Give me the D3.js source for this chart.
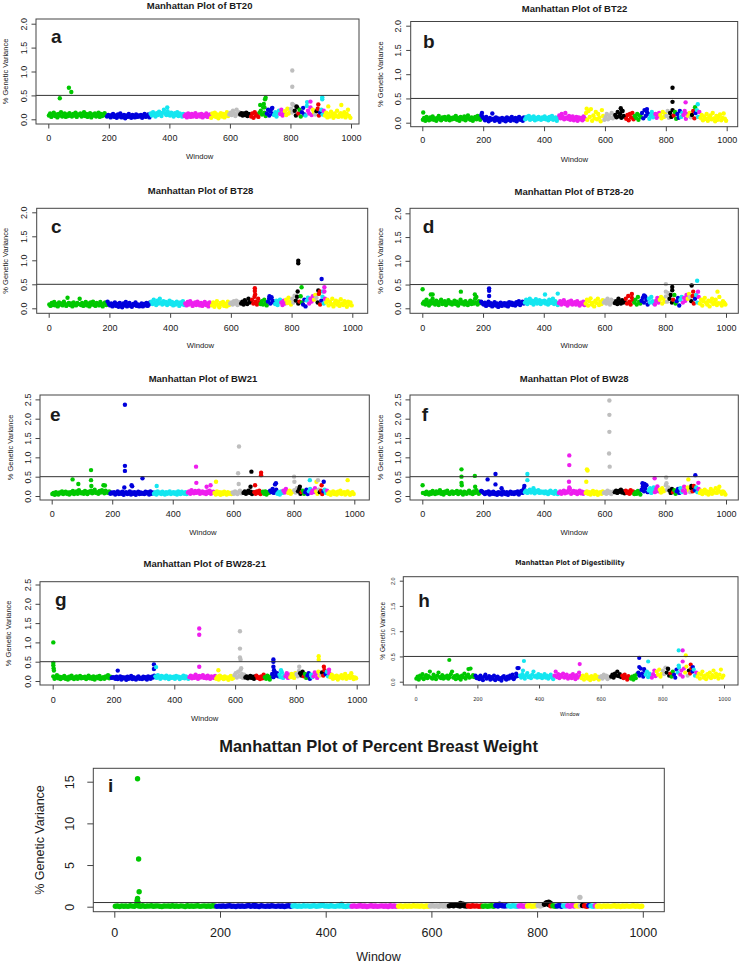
<!DOCTYPE html>
<html>
<head>
<meta charset="utf-8">
<script src="https://cdn.jsdelivr.net/npm/d3@7"></script>
<style>
body { margin: 0; background: #fff; }
text { font-family: "Liberation Sans", Arial, Helvetica, sans-serif; fill: #1a1a1a; }
</style>
</head>
<body>
<script>
// chromosome sizes in windows (GGA1..GGA28, Z), colours cycle through 8
var chromWindows = [192,145,112,88,60,35,36,29,24,21,20,18,18,15,12,1,10,11,10,14,7,4,6,6,2,5,5,4,88];
var chromColors = ["#00c800","#0000dc","#14e6f0","#ee1eee","#ffff00","#bebebe","#000000","#ee0000"];
var xTicks = [0,200,400,600,800,1000];
var yTicksSmall = [0,0.5,1,1.5,2];
var yTicksTall = [0,0.5,1,1.5,2,2.5];
var yTicksPbw = [0,5,10,15];
var threshold = 0.5;

// background cloud: % variance x100, one value every 4th window starting at window 2
var bgStep = 4, bgStart = 2;

var bt20Base = [
 8,12,5,9,14,7,10,4,11,8,15,6,9,12,5,10,7,13,9,6,11,8,14,5,10,
 9,12,6,8,15,7,11,5,9,13,4,10,8,12,6,9,14,5,11,7,10,13,8,6,9,
 7,4,9,11,5,8,3,10,6,12,4,7,9,2,8,5,11,6,3,9,7,4,10,5,8,
 6,9,3,8,11,5,7,10,4,12,8,15,10,6,13,9,16,11,7,14,20,12,9,17,10,
 8,14,11,6,13,9,15,7,12,10,6,11,7,10,4,12,8,5,11,6,9,13,5,8,10,
 6,11,4,9,7,12,5,8,10,3,12,7,14,5,10,2,9,13,6,11,4,8,15,7,10,
 14,9,18,12,7,20,11,15,10,13,8,12,9,14,7,11,10,6,12,3,15,8,10,5,14,
 18,10,25,14,7,12,20,8,16,22,11,9,15,6,13,18,11,20,8,14,17,9,22,12,15,
 22,14,30,18,8,25,12,20,6,15,24,10,8,28,18,12,25,9,20,14,10,17,22,8,14,
 20,10,18,8,14,4,11,6,16,9,3,12,7,18,5,10,13,6,9,15,4,11,20,7,3];
var bt20Peaks = [[38,0.44],[68,0.66],[76,0.57],[393,0.25],[700,0.30],[712,0.32],[714,0.25],[716,0.42],[718,0.45],
 [740,0.24],[806,1.02],[806,0.68],[806,0.32],[820,0.27],[855,0.36],[866,0.37],[892,0.31],[905,0.46],[905,0.42],
 [925,0.27],[968,0.30]];

var bt22Base = [
 6,10,4,12,8,5,11,7,13,6,9,4,10,14,7,5,11,8,12,6,9,13,5,10,7,
 11,8,14,6,10,4,12,9,7,13,5,10,15,8,6,11,4,9,12,7,14,10,6,16,12,
 9,5,12,7,3,10,6,19,8,4,11,6,9,2,7,10,5,8,3,11,6,9,4,12,7,
 5,10,3,8,12,6,9,4,11,7,12,9,14,6,11,8,13,5,10,7,12,9,6,11,8,
 13,7,10,5,12,8,14,6,9,11,4,10,15,9,18,12,7,20,11,8,14,6,10,13,5,
 9,12,4,11,7,10,5,13,8,20,6,24,12,28,4,15,9,22,7,18,11,3,26,14,6,
 12,18,7,15,10,20,9,14,16,11,22,13,18,10,24,14,12,8,16,5,18,11,20,7,14,
 10,18,6,15,12,20,9,26,14,22,18,8,15,22,11,17,18,10,14,20,16,9,22,12,18,
 14,24,10,20,12,26,15,22,8,18,10,24,12,20,16,24,8,18,14,20,11,16,24,9,20,
 26,12,22,10,16,5,13,8,18,4,11,15,7,20,9,3,14,6,12,17,5,10,19,8,4];
var bt22Peaks = [[3,0.21],[196,0.20],[540,0.29],[652,0.30],[656,0.25],[738,0.28],[822,0.72],[822,0.43],
 [865,0.42],[896,0.32],[905,0.38]];

var bt28Base = [
 8,5,11,7,13,6,9,4,12,8,10,6,14,9,5,22,11,7,10,4,12,8,6,11,9,
 20,7,11,5,9,13,6,10,4,12,8,14,7,5,11,9,6,13,8,4,10,12,7,14,9,
 6,10,4,8,12,5,9,3,11,7,2,10,6,13,4,8,11,5,3,9,7,12,5,8,4,
 7,10,4,9,6,11,5,8,12,14,9,18,11,7,16,10,20,12,8,15,10,13,7,11,16,
 9,13,6,11,8,14,10,5,12,9,15,7,10,6,13,8,15,11,5,9,12,7,14,10,6,
 11,5,9,13,7,10,4,12,8,6,12,3,10,15,7,2,11,8,13,5,9,4,14,7,10,
 12,8,15,10,16,7,13,11,10,14,8,17,11,9,20,12,15,18,10,24,14,8,20,12,9,
 15,8,18,11,6,14,20,10,23,16,12,9,16,7,13,18,12,7,16,10,18,11,22,14,8,
 20,12,26,16,24,10,14,25,12,8,18,4,16,22,10,20,14,25,18,28,22,12,30,8,16,
 24,10,20,12,18,6,14,9,20,4,11,16,8,13,5,19,10,7,15,11,3,14,8,12,6];
var bt28Peaks = [[679,0.42],[679,0.36],[680,0.29],[727,0.25],[820,0.35],[822,0.99],[822,0.94],[833,0.44],
 [888,0.37],[893,0.35],[904,0.35],[899,0.61],[908,0.44],[908,0.35]];

var bt2820Base = [
 10,14,8,18,12,6,15,10,20,13,8,16,11,7,14,18,9,12,15,7,11,17,10,13,8,
 12,16,9,14,6,11,18,10,13,8,15,11,7,12,16,9,14,10,20,12,8,15,11,14,10,
 8,12,5,10,14,7,11,4,9,13,6,10,3,8,12,5,9,11,6,10,4,13,8,12,7,
 10,6,13,9,15,7,11,14,10,12,18,9,15,20,11,16,8,14,19,10,13,17,9,15,12,
 16,10,14,8,18,11,13,20,9,15,12,7,11,15,8,13,17,9,12,6,14,10,16,8,11,
 13,8,15,10,6,12,9,14,7,10,18,6,15,21,8,12,4,16,11,20,7,14,9,17,12,
 16,10,20,13,8,18,12,15,11,15,9,20,13,10,17,12,14,20,10,26,14,8,22,16,12,
 18,8,24,14,10,16,22,12,25,18,8,20,12,24,15,10,8,16,22,12,18,24,10,20,14,
 25,14,32,20,28,12,18,28,10,15,22,6,18,24,12,22,16,28,20,30,24,15,26,10,20,
 28,12,24,10,18,6,15,22,12,8,16,4,14,20,9,13,18,7,11,24,10,6,15,12,8];
var bt2820Peaks = [[1,0.40],[28,0.29],[34,0.29],[127,0.35],[173,0.29],[178,0.24],[220,0.42],[220,0.37],[220,0.26],
 [404,0.29],[446,0.31],[690,0.30],[730,0.27],[802,0.51],[802,0.35],[823,0.45],[823,0.38],[887,0.48],
 [892,0.35],[905,0.58],[908,0.35],[972,0.35]];

var bw21Base = [
 5,8,3,10,6,4,9,7,12,5,8,11,6,9,4,10,7,13,5,8,12,6,15,9,7,
 10,6,13,8,5,11,9,14,7,12,16,8,10,6,13,9,15,11,7,14,10,8,12,6,9,
 7,10,4,8,12,5,9,6,11,3,8,10,5,7,12,4,9,6,10,3,8,11,5,9,6,
 8,5,11,7,10,4,12,6,9,6,10,4,12,7,9,5,11,8,4,10,6,9,12,5,8,
 10,6,9,4,12,7,5,11,8,6,10,5,9,12,6,15,10,7,13,8,11,14,6,9,12,
 7,10,5,12,8,14,6,9,11,8,4,12,6,10,3,9,5,11,7,4,10,6,8,5,9,
 6,12,8,5,10,14,7,9,8,12,6,10,14,8,11,5,9,10,6,12,8,14,5,9,11,
 6,12,4,10,8,14,10,18,8,12,16,6,10,4,12,8,14,9,18,11,8,14,6,10,12,
 15,9,20,12,18,6,10,14,6,10,16,5,12,18,8,14,10,20,12,6,16,10,14,5,12,
 16,8,14,6,10,3,8,12,5,9,4,11,7,14,5,8,10,4,9,12,6,3,8,10,5];
var bw21Peaks = [[69,0.43],[88,0.31],[130,0.67],[130,0.41],[131,0.26],[171,0.28],[176,0.27],
 [240,0.22],[242,2.36],[242,0.78],[242,0.65],[264,0.28],[266,0.25],[300,0.46],[347,0.26],
 [477,0.76],[478,0.34],[512,0.24],[525,0.28],[543,0.37],[616,0.59],[618,0.31],[619,1.28],
 [657,0.24],[660,0.63],[672,0.28],[692,0.60],[692,0.54],[738,0.30],[741,0.33],[801,0.50],[802,0.37],
 [820,0.24],[853,0.41],[875,0.37],[880,0.41],[892,0.28],[899,0.37],[978,0.41]];

var bw28Base = [
 8,8,5,11,7,4,10,6,13,8,5,12,7,9,15,6,10,4,11,8,14,7,5,9,12,
 6,10,8,13,5,9,12,7,4,11,8,6,10,14,7,9,5,12,8,15,10,6,9,13,11,
 8,5,10,7,12,4,9,6,11,5,8,3,10,6,9,4,12,7,5,10,3,8,11,6,9,
 5,10,7,12,4,9,13,8,18,10,14,8,12,16,9,11,20,7,13,10,15,8,12,9,11,
 7,12,9,5,11,14,8,10,6,13,9,5,8,12,6,10,14,7,11,9,15,18,6,10,13,
 8,12,5,10,14,7,11,6,9,8,12,6,10,4,9,13,5,8,11,3,7,10,6,12,8,
 10,6,14,8,11,5,9,12,10,14,8,13,11,16,9,12,7,14,8,11,6,15,9,12,5,
 10,6,13,8,4,16,24,12,20,28,10,14,20,8,16,22,10,18,25,12,16,9,20,12,14,
 28,16,22,14,8,18,10,15,6,12,18,8,20,10,14,24,8,18,22,14,10,20,12,26,15,
 22,10,18,8,14,5,11,16,7,12,4,10,18,6,13,9,20,8,15,24,11,6,12,9,4];
var bw28Peaks = [[1,0.28],[129,0.69],[129,0.50],[129,0.34],[130,0.28],[173,0.52],[174,0.24],
 [215,0.43],[241,0.57],[241,0.30],[261,0.20],[336,0.26],[346,0.57],[346,0.41],
 [484,1.05],[484,0.80],[483,0.37],[484,0.22],[540,0.37],[542,0.69],[544,0.66],
 [616,2.47],[616,2.10],[616,1.66],[615,1.10],[617,0.76],[725,0.33],[732,0.31],[765,0.46],
 [803,0.48],[804,0.33],[876,0.43],[886,0.26],[899,0.54],[909,0.34]];

var bw2821Base = [
 12,6,9,15,7,11,5,10,8,13,6,9,4,11,7,14,8,5,10,12,6,9,13,7,10,
 8,11,5,9,14,7,10,6,12,4,9,11,7,13,5,8,10,6,12,9,15,7,11,8,10,
 9,6,11,5,8,12,4,10,7,9,3,11,6,8,13,5,10,7,4,9,12,6,8,5,11,
 7,10,4,12,8,6,11,9,14,12,8,15,10,6,13,9,11,7,14,10,5,12,8,9,11,
 6,13,9,11,5,10,8,14,7,12,9,6,10,14,7,12,8,16,11,6,13,9,12,15,8,
 11,7,14,9,6,12,10,8,13,6,11,4,14,8,10,5,12,7,9,3,10,13,6,8,15,
 20,9,24,14,11,18,8,16,9,12,7,10,13,8,11,6,12,14,8,10,5,12,7,16,10,
 6,14,9,4,12,18,10,24,14,20,12,16,10,22,8,14,12,20,8,16,10,18,14,8,20,
 18,12,26,20,14,24,12,18,8,14,20,6,16,10,12,22,18,8,24,14,16,22,14,28,18,
 24,12,20,10,16,6,12,8,14,4,11,9,15,7,12,18,6,10,13,8,20,11,5,9,7];
var bw2821Peaks = [[2,1.00],[2,0.47],[2,0.41],[3,0.33],[4,0.27],[214,0.27],[333,0.43],[333,0.31],[340,0.36],
 [482,1.36],[482,1.20],[482,0.37],[545,0.28],[616,1.29],[616,0.84],[616,0.61],[618,0.55],[618,0.29],[620,0.33],
 [726,0.56],[726,0.50],[726,0.37],[728,0.28],[751,0.28],[811,0.37],[875,0.64],[875,0.55],[892,0.37],[909,0.29]];

var digBase = [
 6,10,4,12,8,15,5,9,13,7,11,20,8,6,14,10,5,12,18,9,7,13,6,10,8,
 12,6,9,15,20,8,11,5,13,7,10,4,12,9,16,6,11,14,8,26,10,13,9,12,7,
 9,5,12,7,3,10,14,6,8,11,4,9,6,12,3,8,10,5,7,2,9,11,6,4,10,
 6,12,8,14,5,9,16,11,27,12,8,15,10,6,13,17,9,11,7,14,20,10,12,8,15,
 9,13,7,11,15,8,12,6,10,14,8,5,12,20,9,15,7,13,10,16,8,11,14,6,9,
 12,7,15,10,5,13,8,18,11,7,12,4,10,14,6,9,3,11,8,5,13,7,10,4,9,
 11,6,14,9,12,5,10,8,10,14,8,16,12,20,11,15,9,12,7,14,9,4,11,8,6,
 10,4,12,7,15,18,12,26,16,10,22,14,20,9,16,12,8,15,22,11,20,14,24,10,16,
 22,15,28,18,26,12,16,10,20,14,8,24,18,28,14,22,10,26,18,30,12,22,16,26,20,
 24,12,18,10,16,6,14,20,8,12,5,15,10,18,7,13,22,9,16,11,6,14,24,8,12];
var digPeaks = [[109,0.43],[171,0.25],[330,0.27],[348,0.22],[351,0.41],[532,0.35],[725,0.47],[725,0.29],
 [741,0.25],[754,0.40],[819,0.25],[853,0.62],[853,0.32],[866,0.62],[866,0.40],[876,0.52],[892,0.34],[899,0.29]];

var pbwBase = [
 5,8,3,10,6,9,4,12,7,5,20,8,6,11,4,9,7,12,5,8,10,6,3,9,7,
 8,5,11,6,9,4,10,7,3,12,6,8,5,9,11,4,7,10,6,8,5,12,9,4,7,
 6,9,4,8,11,5,7,3,10,6,8,4,9,15,6,10,5,8,3,11,7,4,9,6,12,
 7,4,10,6,9,3,8,12,5,8,11,6,9,4,12,7,10,5,8,13,6,9,11,20,7,
 9,5,12,7,4,10,8,11,6,3,9,7,6,10,4,8,11,5,9,3,7,12,6,8,4,
 7,10,5,8,3,11,6,9,4,6,9,3,10,5,8,4,11,7,9,5,10,3,8,6,9,
 12,7,10,5,15,8,11,6,10,18,12,25,14,9,20,11,8,9,5,12,7,10,4,8,6,
 10,5,8,12,6,14,9,20,12,8,11,10,6,12,8,5,9,12,6,10,8,11,5,9,12,
 14,8,18,30,40,25,10,12,6,9,14,5,10,8,12,6,14,9,10,8,11,14,12,6,15,
 10,6,12,5,8,3,10,6,9,4,7,11,5,8,3,9,6,10,4,7,12,5,8,3,6];
var pbwPeaks = [[43,0.7],[44,1.0],[44,15.35],[45,0.5],[46,5.72],[47,1.8],[265,0.2],[430,0.3],[655,0.4],[660,0.3],
 [729,0.3],[818,0.48],[822,0.55],[825,0.42],[881,1.12]];

var panels = [
  {id:"a", title:"Manhattan Plot of BT20",    base:bt20Base,   peaks:bt20Peaks,   yTicks:yTicksSmall, yRef:2},
  {id:"b", title:"Manhattan Plot of BT22",    base:bt22Base,   peaks:bt22Peaks,   yTicks:yTicksSmall, yRef:2},
  {id:"c", title:"Manhattan Plot of BT28",    base:bt28Base,   peaks:bt28Peaks,   yTicks:yTicksSmall, yRef:2},
  {id:"d", title:"Manhattan Plot of BT28-20", base:bt2820Base, peaks:bt2820Peaks, yTicks:yTicksSmall, yRef:2},
  {id:"e", title:"Manhattan Plot of BW21",    base:bw21Base,   peaks:bw21Peaks,   yTicks:yTicksTall,  yRef:2},
  {id:"f", title:"Manhattan Plot of BW28",    base:bw28Base,   peaks:bw28Peaks,   yTicks:yTicksTall,  yRef:2},
  {id:"g", title:"Manhattan Plot of BW28-21", base:bw2821Base, peaks:bw2821Peaks, yTicks:yTicksTall,  yRef:2},
  {id:"h", title:"Manhattan Plot of Digestibility", base:digBase, peaks:digPeaks, yTicks:yTicksSmall, yRef:2},
  {id:"i", title:"Manhattan Plot of Percent Breast Weight", base:pbwBase, peaks:pbwPeaks, yTicks:yTicksPbw, yRef:15}
];

// where each sub-plot sits on the page
var layout = {
  a:{box:[36,19,359,124],       xr:[48.3,351],   yr:[119.3,23.7], titleY:6,     tickY:137.7, labY:156,   ylabX:5,     ytickX:24,    letter:[51,43],     st:"s"},
  b:{box:[410.7,21.5,737.7,126.7], xr:[422.3,726.7], yr:[122.7,25.7], titleY:8.3, tickY:140, labY:159.3, ylabX:380, ytickX:398, letter:[423,48], st:"s"},
  c:{box:[36.7,208.3,367.7,313.3], xr:[48.7,352.3], yr:[308.3,212.3], titleY:191, tickY:328.3, labY:345.7, ylabX:5, ytickX:24, letter:[51,232.7], st:"s"},
  d:{box:[410,208.3,738.3,313.3], xr:[422.3,726],  yr:[308.3,213.3], titleY:191.7, tickY:328.3, labY:345.7, ylabX:380, ytickX:398, letter:[422.7,233.3], st:"s"},
  e:{box:[40,395,369.3,500],     xr:[51.7,354.3], yr:[496,418.7],   titleY:378.3, tickY:514.3, labY:532.7, ylabX:10,  ytickX:28,  letter:[50,420.7], st:"s"},
  f:{box:[410,395,738.3,500],    xr:[422.3,726],  yr:[496,418.7],   titleY:378.3, tickY:514.3, labY:532.7, ylabX:380, ytickX:398, letter:[421.7,420.7], st:"s"},
  g:{box:[40,581.7,369.3,685],   xr:[52.7,356.7], yr:[681,603.8],   titleY:563.3, tickY:700,   labY:718.3, ylabX:8,   ytickX:28,  letter:[55,606], st:"s"},
  h:{box:[403.3,576.7,738,685],  xr:[415.7,724],  yr:[681.7,580.7], titleY:562.5, tickY:699,   labY:714,   ylabX:382.7, ytickX:392.7, letter:[418.3,607.3], st:"h"},
  i:{box:[93.3,768.3,664.3,911.7], xr:[114.3,642.8], yr:[906.7,781.7], titleY:746.7, tickY:932.3, labY:957, ylabX:40, ytickX:70, letter:[108,791.7], st:"i"}
};

var styles = {
  s:{title:9.5, tick:9,   lab:7.7, ylab:7.5, letter:19, r:2.2, tl:4.5, narrow:false},
  h:{title:7,   tick:5.5, lab:5.5, ylab:6.6, letter:19, r:2.1, tl:3.5, narrow:true},
  i:{title:16.5, tick:12.5, lab:12.5, ylab:12.5, letter:19, r:2.7, tl:6, narrow:false}
};

var svg = d3.select("body").append("svg")
    .attr("width", 740)
    .attr("height", 965);

// window number -> chromosome
var chromOfWindow = [];
chromWindows.forEach(function(n, c) {
  for (var k = 0; k < n; k++) chromOfWindow.push(c);
});
function colorOf(w) {
  var c = chromOfWindow[Math.max(0, Math.min(w - 1, chromOfWindow.length - 1))];
  return chromColors[c % chromColors.length];
}

panels.forEach(function(p) {
  var L = layout[p.id], st = styles[L.st];
  var x = d3.scaleLinear().domain([0, 1000]).range(L.xr);
  var y = d3.scaleLinear().domain([0, p.yRef]).range(L.yr);
  var g = svg.append("g").attr("class", "panel-" + p.id);
  var midX = (L.xr[0] + L.xr[1]) / 2;
  var narrowFont = st.narrow ? "'Liberation Sans Narrow', 'DejaVu Sans Condensed', sans-serif" : null;

  var pts = p.base.map(function(v, i) { return {w: bgStep * i + bgStart, v: v / 100}; })
    .concat(p.peaks.map(function(d) { return {w: d[0], v: d[1]}; }));
  pts.sort(function(a, b) { return a.w - b.w; });

  g.selectAll("circle")
    .data(pts)
    .enter().append("circle")
      .attr("cx", function(d) { return x(d.w); })
      .attr("cy", function(d) { return y(d.v); })
      .attr("r", st.r)
      .attr("fill", function(d) { return colorOf(d.w); });

  // significance line
  g.append("line")
    .attr("x1", L.box[0]).attr("x2", L.box[2])
    .attr("y1", y(threshold)).attr("y2", y(threshold))
    .attr("stroke", "#333").attr("stroke-width", 1);

  g.append("rect")
    .attr("x", L.box[0]).attr("y", L.box[1])
    .attr("width", L.box[2] - L.box[0]).attr("height", L.box[3] - L.box[1])
    .attr("fill", "none").attr("stroke", "#444").attr("stroke-width", 1);

  // x axis
  var xa = g.append("g")
    .attr("transform", "translate(0," + L.box[3] + ")")
    .call(d3.axisBottom(x).tickValues(xTicks).tickSize(st.tl).tickFormat(d3.format("d")));
  xa.select(".domain").remove();
  xa.selectAll("line").attr("stroke", "#444");
  xa.selectAll("text")
    .attr("y", L.tickY - L.box[3]).attr("dy", "0.35em")
    .style("font-size", st.tick + "px")
    .style("font-family", narrowFont)
    .attr("fill", "#1a1a1a");

  // y axis, labels rotated like R
  var fmt = p.yRef > 2 ? d3.format("d") : d3.format(".1f");
  var ya = g.append("g")
    .attr("transform", "translate(" + L.box[0] + ",0)")
    .call(d3.axisLeft(y).tickValues(p.yTicks).tickSize(st.tl).tickFormat(fmt));
  ya.select(".domain").remove();
  ya.selectAll("line").attr("stroke", "#444");
  ya.selectAll("text")
    .attr("x", 0).attr("y", 0).attr("dy", "0.35em")
    .attr("text-anchor", "middle")
    .attr("transform", "translate(" + (L.ytickX - L.box[0]) + ",0) rotate(-90)")
    .style("font-size", st.tick + "px")
    .attr("fill", "#1a1a1a");

  // title
  g.append("text")
    .attr("x", midX).attr("y", L.titleY).attr("dy", "0.35em")
    .attr("text-anchor", "middle")
    .style("font-weight", "bold")
    .style("font-size", st.title + "px")
    .style("font-family", narrowFont)
    .text(p.title);

  g.append("text")
    .attr("x", midX).attr("y", L.labY).attr("dy", "0.35em")
    .attr("text-anchor", "middle")
    .style("font-size", st.lab + "px")
    .style("font-family", narrowFont)
    .text("Window");

  g.append("text")
    .attr("transform", "translate(" + L.ylabX + "," + ((L.box[1] + L.box[3]) / 2) + ") rotate(-90)")
    .attr("dy", "0.35em")
    .attr("text-anchor", "middle")
    .style("font-size", st.ylab + "px")
    .text("% Genetic Variance");

  g.append("text")
    .attr("x", L.letter[0]).attr("y", L.letter[1])
    .style("font-weight", "bold")
    .style("font-size", st.letter + "px")
    .attr("fill", "#000")
    .text(p.id);
});
</script>
</body>
</html>
